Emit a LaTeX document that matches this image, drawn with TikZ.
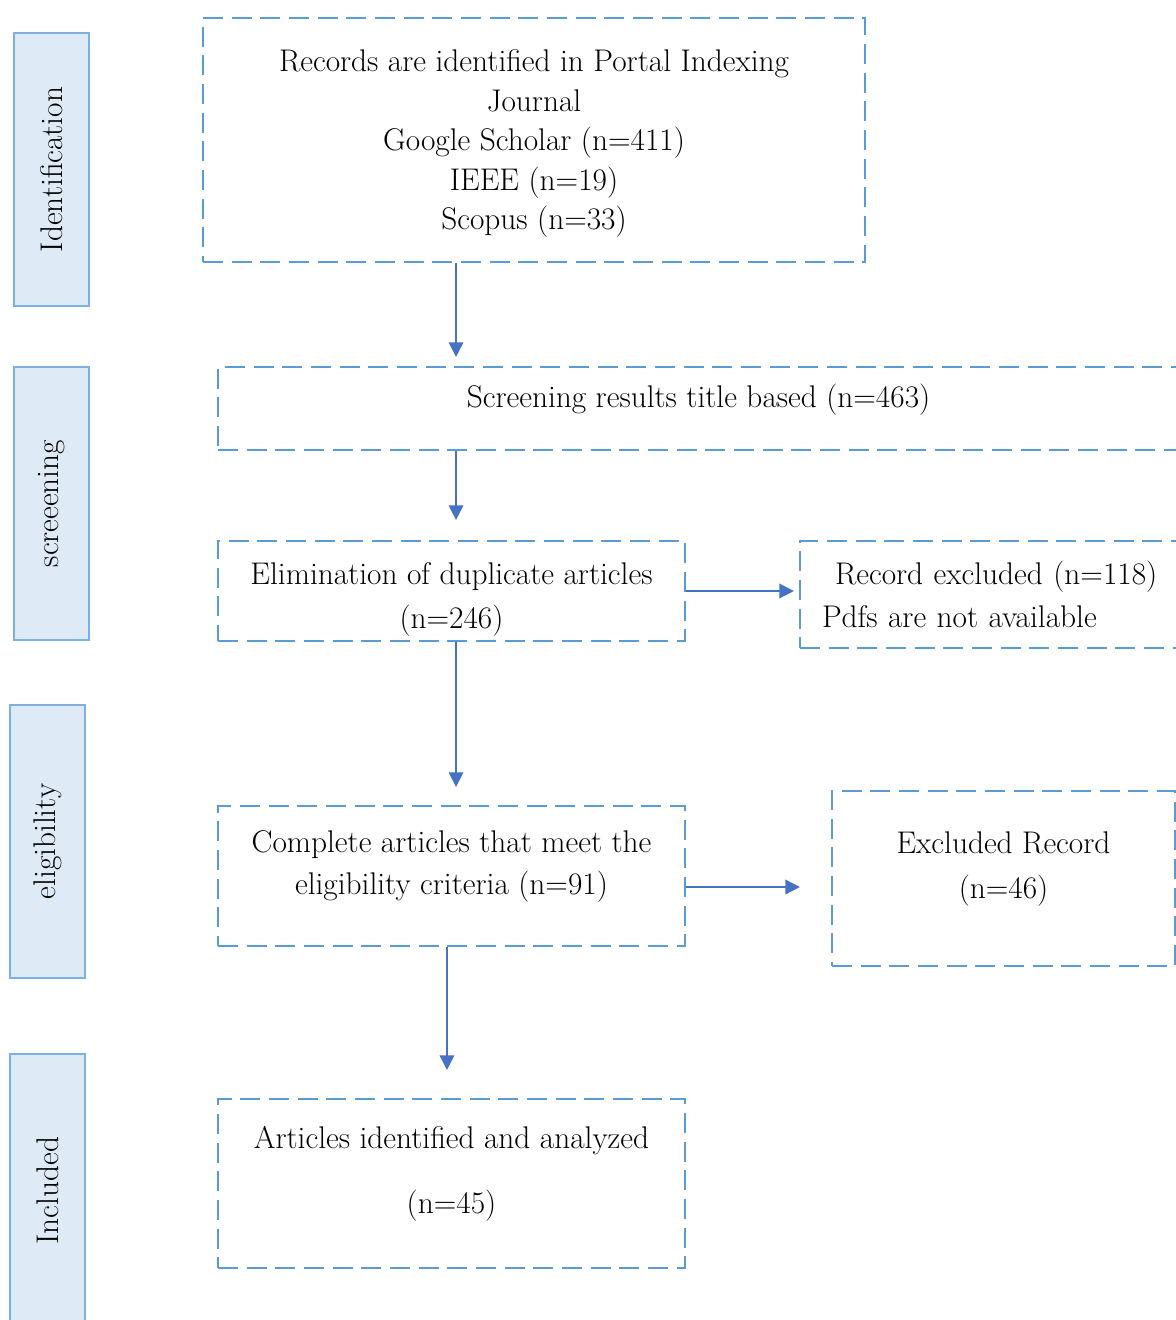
\documentclass[tikz,border=0pt]{standalone}
\usepackage{xcolor}
\definecolor{prblue}{RGB}{91,155,213}
\definecolor{prarrow}{RGB}{68,114,196}
\definecolor{prfill}{RGB}{222,234,246}
\definecolor{prside}{RGB}{125,175,225}
\usetikzlibrary{arrows.meta,positioning,calc}
\newcommand{\prfont}{\fontsize{23.5}{29.6}\selectfont}
\tikzset{
  stage/.style={draw=prblue, line width=1.6pt, dash pattern=on 15pt off 6.5pt,
                font=\prfont, align=center},
  phase/.style={draw=prside, fill=prfill, line width=1.1pt, font=\prfont,
                minimum width=204.75pt, minimum height=56.25pt},
  flow/.style={-{Triangle[length=11pt, width=11pt]}, draw=prarrow, line width=1.1pt},
}

\begin{document}
\begin{tikzpicture}[x=0.75pt, y=-0.75pt]
\useasboundingbox (0,0) rectangle (1176,1320);

% phases on the left
\node[phase, rotate=90] (pid) at (51.5,169.5) {Identification};
\node[phase, rotate=90] (pscr) at (51.5,503.5) {screeening};
\node[phase, rotate=90] (pelig) at (47.5,841.5) {eligibility};
\node[phase, rotate=90] (pinc) at (47.5,1190.5) {Included};

% main flow
\node[stage, minimum width=496.5pt, minimum height=183pt] (ids) at (534,140)
      {\rule{0pt}{22pt}Records are identified in Portal Indexing\\ Journal\\ Google Scholar (n=411)\\ IEEE (n=19)\\ Scopus (n=33)};
\node[stage, minimum width=720.75pt, minimum height=62.25pt, text depth=19pt] (scr) at (698.5,408.5)
      {Screening results title based (n=463)};
\node[stage, minimum width=350.25pt, minimum height=75pt] (dup) at (451.5,591)
      {\rule{0pt}{29pt}Elimination of duplicate articles\\[3pt] (n=246)};
\node[stage, minimum width=350.25pt, minimum height=105pt, text depth=20pt] (elig) at (451.5,876)
      {Complete articles that meet the\\[2pt] eligibility criteria (n=91)};
\node[stage, minimum width=350.25pt, minimum height=126.75pt, text depth=20pt] (incl) at (451.5,1183.5)
      {Articles identified and analyzed\\[19pt] (n=45)};

% excluded records
\node[stage, align=left, text width=267pt, inner xsep=16.5pt, minimum height=80.25pt] (excl) at (1000,594.5)
      {\hspace*{9.75pt}Record excluded (n=118)\\[3pt] Pdfs are not available};
\node[stage, minimum width=257.25pt, minimum height=131.25pt, text depth=20pt] (rej) at (1003.5,878.5)
      {Excluded Record\\[4pt] (n=46)};

\draw[flow, shorten >=6.75pt] ([xshift=3.4pt]ids.south -| dup.north) -- ([xshift=3.4pt]scr.north -| dup.north);
\draw[flow, shorten >=15pt] ([xshift=3.4pt]scr.south -| dup.north) -- ([xshift=3.4pt]dup.north);
\draw[flow, shorten >=3.75pt] (dup.east) -- (dup.east -| excl.west);
\draw[flow, shorten >=13.5pt] ([xshift=3.4pt]dup.south) -- ([xshift=3.4pt]elig.north);
\draw[flow, shorten >=23.25pt] ([yshift=-8.25pt]elig.east) -- ([yshift=-8.25pt]elig.east -| rej.west);
\draw[flow, shorten >=21pt] ([xshift=-3.4pt]elig.south) -- ([xshift=-3.4pt]incl.north);

\end{tikzpicture}
\end{document}
